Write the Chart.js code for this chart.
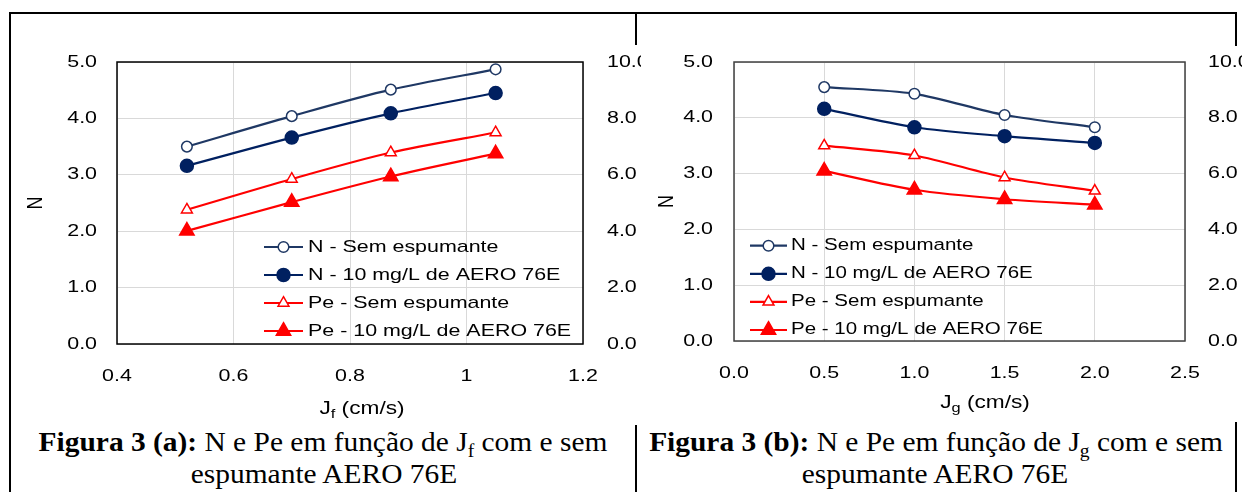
<!DOCTYPE html>
<html><head><meta charset="utf-8">
<script src="https://cdn.jsdelivr.net/npm/chart.js@4.4.1/dist/chart.umd.min.js"></script>
<style>
html,body{margin:0;padding:0;background:#fff;}
body{width:1242px;height:492px;position:relative;overflow:hidden;}
.ln{position:absolute;background:#000;}
canvas.ch{position:absolute;background:#fff;}
.cap{position:absolute;font-family:"Liberation Serif","Times New Roman",Times,serif;font-size:27px;color:#000;white-space:nowrap;line-height:1;transform-origin:center;}
.cap .sb{font-size:18px;position:relative;top:6px;}
</style></head><body>
<div class="ln" style="left:9px;top:12px;width:1228px;height:2px"></div>
<div class="ln" style="left:9px;top:12px;width:2px;height:480px"></div>
<div class="ln" style="left:635px;top:12px;width:2px;height:480px"></div>
<div class="ln" style="left:1235px;top:12px;width:2px;height:480px"></div>
<canvas id="ca" class="ch" width="630" height="380" style="left:11px;top:45px;width:630px;height:380px"></canvas>
<canvas id="cb" class="ch" width="601" height="376" style="left:641px;top:46px;width:601px;height:376px"></canvas>
<div class="cap" style="left:323px;top:442px;transform:translate(-50%,-50%) scaleX(1.09)"><b>Figura 3 (a):</b> N e Pe em função de J<span class="sb">f</span> com e sem</div>
<div class="cap" style="left:324px;top:474px;transform:translate(-50%,-50%) scaleX(1.09)">espumante AERO 76E</div>
<div class="cap" style="left:936px;top:442px;transform:translate(-50%,-50%) scaleX(1.09)"><b>Figura 3 (b):</b> N e Pe em função de J<span class="sb">g</span> com e sem</div>
<div class="cap" style="left:935px;top:474px;transform:translate(-50%,-50%) scaleX(1.09)">espumante AERO 76E</div>
<script>
// ---- data ----
const jfValues = [0.52, 0.70, 0.87, 1.05];
const nSemA = [3.50, 4.04, 4.51, 4.87];
const n10A = [3.16, 3.66, 4.09, 4.45];
const peSemA = [4.76, 5.85, 6.79, 7.50];
const pe10A = [4.01, 5.03, 5.94, 6.75];

const jgValues = [0.5, 1.0, 1.5, 2.0];
const nSemB = [4.55, 4.43, 4.05, 3.83];
const n10B = [4.16, 3.83, 3.67, 3.55];
const peSemB = [7.00, 6.65, 5.86, 5.38];
const pe10B = [6.10, 5.42, 5.08, 4.88];

const xTicksA = [0.4, 0.6, 0.8, 1.0, 1.2];
const xLabelsA = ['0.4', '0.6', '0.8', '1', '1.2'];
const xTicksB = [0, 0.5, 1.0, 1.5, 2.0, 2.5];
const xLabelsB = ['0.0', '0.5', '1.0', '1.5', '2.0', '2.5'];
const nTicks = [0, 1, 2, 3, 4, 5];
const nLabels = ['0.0', '1.0', '2.0', '3.0', '4.0', '5.0'];
const peTicks = [0, 2, 4, 6, 8, 10];
const peLabels = ['0.0', '2.0', '4.0', '6.0', '8.0', '10.0'];
const seriesLabels = ['N - Sem espumante', 'N - 10 mg/L de AERO 76E', 'Pe - Sem espumante', 'Pe - 10 mg/L de AERO 76E'];

// ---- styles ----
const S = 1.26;
const FONT = '"Liberation Sans", Arial, sans-serif';
const seriesStyles = [
  {color: '#1F3864', shape: 'circle', r: 5.3, filled: false, axis: 'y'},
  {color: '#002060', shape: 'circle', r: 6.5, filled: true, axis: 'y'},
  {color: '#FF0000', shape: 'triangle', r: 6.3, filled: false, axis: 'y1'},
  {color: '#FF0000', shape: 'triangle', r: 8.3, filled: true, axis: 'y1'}
];

function stretchText(ctx, s) {
  const orig = ctx.fillText;
  ctx.fillText = function (text, x, y, maxWidth) {
    const m = this.getTransform();
    const p = m.transformPoint(new DOMPoint(x, y));
    const n = new DOMMatrix().translate(p.x, p.y).scale(s, 1).translate(-p.x, -p.y).multiply(m);
    this.save();
    this.setTransform(n);
    if (maxWidth === undefined || maxWidth === null) orig.call(this, text, x, y);
    else orig.call(this, text, x, y, maxWidth);
    this.restore();
  };
}

function marker(ctx, shape, x, y, r, fill, stroke, bw) {
  ctx.save();
  ctx.beginPath();
  if (shape === 'circle') {
    ctx.arc(x, y, r, 0, Math.PI * 2);
  } else {
    let rad = 0;
    ctx.moveTo(x + Math.sin(rad) * r, y - Math.cos(rad) * r);
    rad += 2 * Math.PI / 3;
    ctx.lineTo(x + Math.sin(rad) * r, y - Math.cos(rad) * r);
    rad += 2 * Math.PI / 3;
    ctx.lineTo(x + Math.sin(rad) * r, y - Math.cos(rad) * r);
    ctx.closePath();
  }
  ctx.fillStyle = fill; ctx.fill();
  ctx.lineWidth = bw; ctx.strokeStyle = stroke; ctx.stroke();
  ctx.restore();
}

const customPlugin = {
  id: 'custom',
  beforeDatasetsDraw(chart, args, o) {
    const {ctx, chartArea: a} = chart;
    ctx.save();
    ctx.strokeStyle = o.frameColor;
    ctx.lineWidth = 1.5;
    ctx.strokeRect(a.left, a.top, a.right - a.left, a.bottom - a.top);
    ctx.restore();
  },
  afterDraw(chart, args, o) {
    const {ctx, chartArea: a} = chart;
    ctx.save();
    ctx.textBaseline = 'middle';
    ctx.textAlign = 'left';
    chart.data.datasets.forEach((ds, i) => {
      const y = a.top + o.legTop + i * o.legRow;
      const x0 = a.left + o.legLeft;
      ctx.strokeStyle = ds.borderColor;
      ctx.lineWidth = ds.borderWidth;
      ctx.beginPath(); ctx.moveTo(x0, y); ctx.lineTo(x0 + o.legLine, y); ctx.stroke();
      marker(ctx, ds.pointStyle, x0 + o.legLine / 2, y, ds.pointRadius, ds.pointBackgroundColor, ds.borderColor, ds.pointBorderWidth);
      ctx.fillStyle = '#000';
      ctx.font = o.legFont + 'px ' + FONT;
      ctx.fillText(ds.label, x0 + o.legText, y);
    });
    // x-axis title with subscript
    const pieces = [
      {t: 'J', size: 18, dy: 0},
      {t: o.sub, size: 13, dy: 5},
      {t: ' (cm/s)', size: 18, dy: 0}
    ];
    let total = 0;
    pieces.forEach(p => { ctx.font = p.size + 'px ' + FONT; p.w = ctx.measureText(p.t).width * S; total += p.w; });
    let x = a.left + o.xtDx - total / 2;
    const yb = a.bottom + o.xtDy;
    pieces.forEach(p => {
      ctx.font = p.size + 'px ' + FONT;
      ctx.fillStyle = '#000';
      ctx.fillText(p.t, x, yb + p.dy);
      x += p.w;
    });
    ctx.restore();
  }
};

function buildDatasets(xs, seriesList) {
  return seriesList.map((vals, i) => {
    const st = seriesStyles[i];
    return {
      label: seriesLabels[i],
      data: xs.map((x, k) => ({x: x, y: vals[k]})),
      yAxisID: st.axis,
      borderColor: st.color,
      backgroundColor: st.color,
      borderWidth: 2.2,
      pointStyle: st.shape,
      pointRadius: st.r,
      pointHoverRadius: st.r,
      pointBorderWidth: 1.5,
      pointBackgroundColor: st.filled ? st.color : '#ffffff',
      pointBorderColor: st.color,
      tension: 0.3,
      fill: false
    };
  });
}

function makeChart(id, p) {
  const canvas = document.getElementById(id);
  const ctx = canvas.getContext('2d');
  stretchText(ctx, S);
  const tickFont = {family: FONT, size: 17};
  return new Chart(ctx, {
    type: 'line',
    data: {datasets: buildDatasets(p.xs, p.series)},
    options: {
      responsive: false,
      animation: false,
      devicePixelRatio: window.devicePixelRatio || 1,
      layout: {padding: {left: 0, right: 0, top: p.padTop, bottom: 0}},
      plugins: {
        legend: {display: false},
        tooltip: {enabled: false},
        custom: p.custom
      },
      scales: {
        x: {
          type: 'linear', position: 'bottom',
          min: p.xTicks[0], max: p.xTicks[p.xTicks.length - 1],
          afterBuildTicks: s => { s.ticks = p.xTicks.map(v => ({value: v})); },
          ticks: {callback: (v, i) => p.xLabels[i], padding: 21.8, maxRotation: 0, autoSkip: false, font: tickFont, color: '#000'},
          grid: {color: '#d9d9d9', lineWidth: 1, drawTicks: false},
          border: {display: false},
          afterFit: s => { s.height = p.xHeight; s.paddingLeft = 0; s.paddingRight = 0; }
        },
        y: {
          type: 'linear', position: 'left', min: 0, max: 5,
          afterBuildTicks: s => { s.ticks = nTicks.map(v => ({value: v})); },
          ticks: {callback: (v, i) => nLabels[i], padding: p.yPad, font: tickFont, color: '#000'},
          grid: {color: '#d9d9d9', lineWidth: 1, drawTicks: false},
          border: {display: false},
          title: {display: true, text: 'N', color: '#000', font: {family: FONT, size: 18}, padding: {top: p.yTitlePad, bottom: 0}},
          afterFit: s => { s.width = p.yWidth; s.paddingTop = 0; s.paddingBottom = 0; }
        },
        y1: {
          type: 'linear', position: 'right', min: 0, max: 10,
          afterBuildTicks: s => { s.ticks = peTicks.map(v => ({value: v})); },
          ticks: {callback: (v, i) => peLabels[i], padding: p.y1Pad, font: tickFont, color: '#000'},
          grid: {drawOnChartArea: false, drawTicks: false},
          border: {display: false},
          afterFit: s => { s.width = p.y1Width; s.paddingTop = 0; s.paddingBottom = 0; }
        }
      }
    },
    plugins: [customPlugin]
  });
}

makeChart('ca', {
  xs: jfValues, series: [nSemA, n10A, peSemA, pe10A],
  xTicks: xTicksA, xLabels: xLabelsA,
  padTop: 17, xHeight: 81, yWidth: 106, yPad: 20, y1Width: 58, y1Pad: 24, yTitlePad: 13.8,
  custom: {frameColor: '#000', legTop: 185, legRow: 28, legLeft: 147, legLine: 39, legText: 44, legFont: 17, sub: 'f', xtDx: 245, xtDy: 65}
});
makeChart('cb', {
  xs: jgValues, series: [nSemB, n10B, peSemB, pe10B],
  xTicks: xTicksB, xLabels: xLabelsB,
  padTop: 16, xHeight: 81, yWidth: 93, yPad: 21, y1Width: 57, y1Pad: 23, yTitlePad: 14.8,
  custom: {frameColor: '#404040', legTop: 183.7, legRow: 28.1, legLeft: 16, legLine: 37, legText: 41, legFont: 16.3, sub: 'g', xtDx: 251, xtDy: 62}
});
</script>
</body></html>
